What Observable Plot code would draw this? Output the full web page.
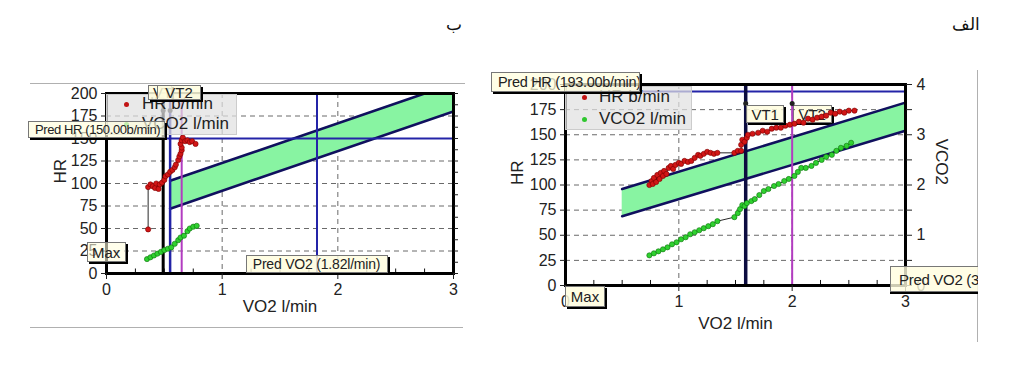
<!DOCTYPE html>
<html><head><meta charset="utf-8">
<script src="https://cdn.jsdelivr.net/npm/d3@7"></script>
<script src="https://cdn.jsdelivr.net/npm/@observablehq/plot@0.6"></script>
<style>
body{margin:0;background:#fff;font-family:"Liberation Sans",Arial,sans-serif;}
#root{position:relative;width:1011px;height:387px;overflow:hidden;background:#fff;}
.abs{position:absolute;}
.tag{position:absolute;box-sizing:border-box;background:rgba(255,253,222,0.85);border:1px solid #777;box-shadow:2px 2px 0 #000;font-size:15px;color:#222;white-space:nowrap;overflow:hidden;line-height:1;display:flex;align-items:center;padding:0 4px;}
.legend{position:absolute;box-sizing:border-box;background:rgba(224,224,224,0.72);border:1px solid #ccc;font-size:17px;color:#222;}
.legend span{position:absolute;line-height:1;}
.ldot{position:absolute;width:5px;height:5px;border-radius:50%;}
</style></head><body><div id="root"></div><script>
// ---------- axis ticks ----------
const xTicks = [0, 1, 2, 3];
const xMinor = [0.25, 0.5, 0.75, 1.25, 1.5, 1.75, 2.25, 2.5, 2.75];
const xGrid = [1, 2];
const hrTicks = [0, 25, 50, 75, 100, 125, 150, 175, 200];
const hrGrid = [25, 50, 75, 100, 125, 150, 175];
const hrMinorLeftRight = [0, 12.5, 25, 37.5, 50, 62.5, 75, 87.5, 100, 112.5, 125, 137.5, 150, 162.5, 175, 187.5, 200];
const vco2Ticks = [0, 1, 2, 3, 4];
const vco2Minor = [0.5, 1.5, 2.5, 3.5];
const hrPerVco2 = 50; // right axis: 4 l/min <-> 200 b/min

// ---------- panel ب (left) ----------
const leftHrVo2 = [0.36,0.36,0.38,0.40,0.42,0.43,0.45,0.46,0.48,0.50,0.51,0.53,0.55,0.57,0.59,0.60,0.62,0.63,0.64,0.65,0.65,0.64,0.65,0.66,0.68,0.70,0.72,0.74,0.77];
const leftHr    = [49,96,99,97,95,100,94,99,101,104,108,110,113,115,118,121,126,130,133,137,140,144,148,151,147,148,146,147,144];
const leftCo2Vo2 = [0.35,0.38,0.41,0.44,0.47,0.50,0.53,0.56,0.59,0.62,0.64,0.67,0.70,0.72,0.75,0.78];
const leftCo2    = [0.32,0.36,0.40,0.44,0.48,0.52,0.55,0.58,0.66,0.74,0.80,0.84,0.94,1.00,1.04,1.06];
const leftBandVo2 = [0.55, 3];
const leftBandLo  = [72, 180];
const leftBandHi  = [103, 211];
const leftPredHr = 150, leftPredVo2 = 1.82;
const leftLines = [
  {vo2: 0.49, color: "#000000", w: 3},
  {vo2: 0.55, color: "#2323a6", w: 2.5},
  {vo2: 0.65, color: "#b23cc0", w: 2}
];
const leftLineDots = [0.49, 0.55];

// ---------- panel الف (right) ----------
const rightHrVo2 = [0.74,0.76,0.77,0.78,0.80,0.81,0.83,0.84,0.86,0.87,0.89,0.91,0.93,0.95,0.97,1.00,1.02,1.05,1.08,1.11,1.14,1.17,1.19,1.22,1.25,1.28,1.31,1.34,1.49,1.52,1.55,1.55,1.56,1.58,1.60,1.61,1.65,1.70,1.74,1.78,1.82,1.86,1.90,1.94,1.98,2.02,2.06,2.10,2.14,2.18,2.22,2.26,2.30,2.34,2.38,2.42,2.46,2.50,2.55];
const rightHr    = [100,104,101,107,103,110,106,112,109,114,111,117,119,116,120,122,121,124,123,124,127,130,129,131,133,132,131,132,132,134,134,140,145,143,147,150,151,152,154,153,156,157,157,159,160,161,163,162,166,165,167,168,169,172,171,173,172,174,174];
const rightCo2Vo2 = [0.74,0.78,0.82,0.86,0.90,0.94,0.98,1.02,1.06,1.10,1.14,1.18,1.22,1.26,1.30,1.34,1.49,1.52,1.54,1.56,1.58,1.60,1.64,1.67,1.71,1.75,1.79,1.84,1.88,1.93,1.97,2.02,2.05,2.08,2.12,2.17,2.21,2.26,2.30,2.35,2.39,2.43,2.48,2.52];
const rightCo2    = [0.60,0.64,0.68,0.72,0.76,0.82,0.86,0.92,0.96,1.02,1.06,1.10,1.14,1.18,1.22,1.28,1.36,1.44,1.52,1.60,1.58,1.64,1.68,1.72,1.80,1.88,1.92,1.98,2.02,2.08,2.12,2.18,2.26,2.34,2.34,2.38,2.44,2.50,2.56,2.60,2.68,2.74,2.78,2.84];
const rightBandVo2 = [0.5, 3];
const rightBandLo  = [69, 154];
const rightBandHi  = [96, 182];
const rightPredHr = 193;
const rightLines = [
  {vo2: 1.59, color: "#0c0c40", w: 3.5},
  {vo2: 2.0, color: "#b23cc0", w: 2}
];
const rightLineDots = [1.59, 2.0];
const lineDotHr = 181;

const navy = "#10105e";
const gridStyle = {stroke: "#6a6a6a", strokeOpacity: 1, strokeDasharray: "5,4", strokeWidth: 1};

function panel(o) {
  const hr = o.hrVo2.map((x, i) => ({x, y: o.hr[i]}));
  const co2 = o.co2Vo2.map((x, i) => ({x, y: o.co2[i] * hrPerVco2}));
  const band = o.bandVo2.map((x, i) => ({x, lo: o.bandLo[i], hi: o.bandHi[i]}));
  const marks = [
    Plot.gridY(hrGrid, gridStyle),
    Plot.gridX(xGrid, gridStyle),
    Plot.areaY(band, {x: "x", y1: "lo", y2: "hi", fill: "#88f4a2", clip: true}),
    Plot.line(band, {x: "x", y: "lo", stroke: navy, strokeWidth: 2.6, clip: true}),
    Plot.line(band, {x: "x", y: "hi", stroke: navy, strokeWidth: 2.6, clip: true}),
    Plot.ruleY([o.predHr], {stroke: "#2424a8", strokeWidth: 2})
  ];
  if (o.predVo2 != null) marks.push(Plot.ruleX([o.predVo2], {y1: 0, y2: 200, stroke: "#2424a8", strokeWidth: 2}));
  marks.push(
    Plot.ruleX(o.lines, {x: "vo2", y1: 0, y2: 200, stroke: "color", strokeWidth: "w"}),
    Plot.dot(o.lineDots, {x: d => d, y: lineDotHr, r: 2.5, fill: "#222"}),
    Plot.line(hr, {x: "x", y: "y", stroke: "#111", strokeWidth: 0.9}),
    Plot.line(co2, {x: "x", y: "y", stroke: "#111", strokeWidth: 0.9}),
    Plot.dot(hr, {x: "x", y: "y", r: 2.6, fill: "#d21616", stroke: "#7a0000", strokeWidth: 0.6}),
    Plot.dot(co2, {x: "x", y: "y", r: 2.6, fill: "#2fd12f", stroke: "#0b6e0b", strokeWidth: 0.6}),
    Plot.ruleX(xMinor, {y1: 0, y2: 5, stroke: "#111"}),
    Plot.frame({stroke: "#000", strokeWidth: 3}),
    Plot.axisX({ticks: xTicks, tickFormat: d => String(d), tickSize: 6, tickPadding: 4, fontSize: 16, label: null}),
    Plot.axisY({ticks: hrTicks, tickFormat: d => String(d), tickSize: 5, tickPadding: 4, fontSize: 16, label: null}),
    Plot.text(["VO2 l/min"], {frameAnchor: "bottom", dy: o.xLabelDy, fontSize: 17, fill: "#222"}),
    Plot.text(["HR"], {frameAnchor: "left", dx: o.yLabelDx, rotate: -90, fontSize: 17, fill: "#222"})
  );
  marks.push(...o.extra);
  return Plot.plot({
    width: o.width, height: o.height,
    marginLeft: o.ml, marginRight: o.mr, marginTop: o.mt, marginBottom: o.mb,
    x: {domain: [0, 3]}, y: {domain: [0, 200]},
    style: {background: "transparent", fontFamily: "'Liberation Sans', Arial, sans-serif", fontSize: "16px", color: "#222", overflow: "visible"},
    marks
  });
}

const root = document.getElementById("root");

function el(cls, css, html, parent = root) {
  const d = document.createElement("div");
  d.className = cls;
  Object.assign(d.style, css);
  if (html != null) d.innerHTML = html;
  parent.appendChild(d);
  return d;
}

const leftPlot = panel({
  width: 480, height: 340, ml: 106, mr: 27, mt: 93, mb: 67,
  hrVo2: leftHrVo2, hr: leftHr, co2Vo2: leftCo2Vo2, co2: leftCo2,
  bandVo2: leftBandVo2, bandLo: leftBandLo, bandHi: leftBandHi,
  predHr: leftPredHr, predVo2: leftPredVo2, lines: leftLines, lineDots: leftLineDots,
  xLabelDy: 38, yLabelDx: -46,
  extra: [Plot.axisY({anchor: "right", ticks: hrMinorLeftRight, tickSize: 4, tickFormat: () => "", label: null})]
});
const rightPlot = panel({
  width: 531, height: 387, ml: 85, mr: 106, mt: 84, mb: 102,
  hrVo2: rightHrVo2, hr: rightHr, co2Vo2: rightCo2Vo2, co2: rightCo2,
  bandVo2: rightBandVo2, bandLo: rightBandLo, bandHi: rightBandHi,
  predHr: rightPredHr, predVo2: null, lines: rightLines, lineDots: rightLineDots,
  xLabelDy: 43, yLabelDx: -48,
  extra: [
    Plot.axisY({anchor: "right", ticks: vco2Ticks.map(v => v * hrPerVco2), tickFormat: d => String(d / hrPerVco2), tickSize: 6, tickPadding: 5, fontSize: 16, label: null}),
    Plot.axisY({anchor: "right", ticks: vco2Minor.map(v => v * hrPerVco2), tickFormat: () => "", tickSize: 6, label: null}),
    Plot.text(["VCO2"], {frameAnchor: "right", dx: 36, rotate: 90, fontSize: 17, fill: "#222"})
  ]
});

const rx = rightPlot.scale("x"), ry = rightPlot.scale("y");
const lx = leftPlot.scale("x"), ly = leftPlot.scale("y");
const RX0 = 480;

// VT2 label of right panel sits beneath the data points
el("tag", {left: (RX0 + rx.apply(2.0) + 1) + "px", top: "105px", width: "39px", height: "18px", justifyContent: "center", zIndex: 0, fontSize: "15px"}, "VT2");

// charts
leftPlot.style.position = "absolute"; leftPlot.style.left = "0px"; leftPlot.style.top = "0px"; leftPlot.style.zIndex = 1;
rightPlot.style.position = "absolute"; rightPlot.style.left = RX0 + "px"; rightPlot.style.top = "0px"; rightPlot.style.zIndex = 1;
root.appendChild(leftPlot);
root.appendChild(rightPlot);

// page decorations
el("abs", {left: "30px", top: "83px", width: "435px", height: "0", borderTop: "1.5px solid #b0b0b0", zIndex: 2});
el("abs", {left: "30px", top: "327px", width: "433px", height: "0", borderTop: "1.5px solid #b0b0b0", zIndex: 2});
el("abs", {left: "977px", top: "70px", width: "0", height: "272px", borderLeft: "1.5px solid #b0b0b0", zIndex: 2});
el("abs", {left: "930px", top: "14px", width: "50px", textAlign: "right", direction: "rtl", fontSize: "17px", color: "#111", zIndex: 3}, "الف");
el("abs", {left: "420px", top: "14px", width: "42px", textAlign: "right", direction: "rtl", fontSize: "17px", color: "#111", zIndex: 3}, "ب");

// legends
function legend(left, top, w, h, items) {
  const L = el("legend", {left: left + "px", top: top + "px", width: w + "px", height: h + "px", zIndex: 3});
  items.forEach(it => {
    el("ldot", {left: it.dx + "px", top: (it.dy - 2.5) + "px", background: it.color}, null, L);
    const s = document.createElement("span");
    s.textContent = it.text;
    s.style.left = it.tx + "px";
    s.style.top = (it.dy - 9) + "px";
    L.appendChild(s);
  });
}
legend(106, 94, 131, 41, [
  {color: "#c21414", text: "HR b/min", dx: 17, dy: 9, tx: 35},
  {color: "#2fc72f", text: "VCO2 l/min", dx: 17, dy: 29, tx: 35}
]);
legend(565, 86, 127, 44, [
  {color: "#c21414", text: "HR b/min", dx: 16, dy: 10, tx: 33},
  {color: "#2fc72f", text: "VCO2 l/min", dx: 16, dy: 32, tx: 33}
]);

// annotation tags, left panel
el("tag", {left: "148px", top: "85px", width: "24px", height: "15px", zIndex: 4}, "VT1");
el("tag", {left: "157px", top: "85px", width: "44px", height: "15px", justifyContent: "center", zIndex: 4}, "VT2");
el("tag", {left: "28px", top: (ly.apply(leftPredHr) - 17) + "px", width: "137px", height: "17px", zIndex: 4, fontSize: "13px", letterSpacing: "-0.4px", padding: "0 0 0 6px", background: "rgba(255,253,222,0.7)"}, "Pred HR (150.00b/min)");
el("tag", {left: "87px", top: "242px", width: "39px", height: "20px", zIndex: 4, background: "rgba(255,253,222,0.6)"}, "Max");
el("tag", {left: (lx.apply(leftPredVo2) - 71) + "px", top: (ly.apply(0) - 18) + "px", width: "142px", height: "18px", justifyContent: "center", zIndex: 4, fontSize: "14px", letterSpacing: "-0.2px"}, "Pred VO2 (1.82l/min)");

// annotation tags, right panel
el("tag", {left: "491px", top: (ry.apply(rightPredHr) - 19) + "px", width: "149px", height: "20px", zIndex: 4, fontSize: "14.5px", letterSpacing: "-0.3px", padding: "0 0 0 6px", background: "rgba(255,253,222,0.75)"}, "Pred HR (193.00b/min)");
el("tag", {left: (RX0 + rx.apply(1.59) + 1) + "px", top: "105px", width: "38px", height: "18px", justifyContent: "center", zIndex: 4, fontSize: "15px"}, "VT1");
el("tag", {left: "565px", top: "286px", width: "40px", height: "21px", justifyContent: "center", zIndex: 4, fontSize: "15px"}, "Max");
el("tag", {left: "890px", top: "266px", width: "88px", height: "26px", zIndex: 4, fontSize: "15px", letterSpacing: "-0.3px", borderRight: "none", boxShadow: "0 2px 0 #000", padding: "0 0 0 8px", background: "rgba(255,253,222,0.8)"}, "Pred VO2 (3.25l/min)");
</script></body></html>
